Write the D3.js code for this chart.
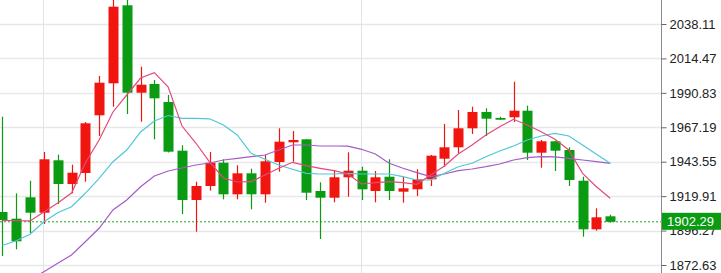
<!DOCTYPE html>
<html>
<head>
<meta charset="utf-8">
<script src="https://cdn.jsdelivr.net/npm/d3@7"></script>
<style>
  body { margin: 0; background: #fff; }
  svg { display: block; }
  .tick text { font-family: "Liberation Sans", Arial, sans-serif; font-size: 13px; fill: #222; }
</style>
</head>
<body>
<div id="chart"></div>
<script>
// candles, left to right (red = up, green = down)
var opens  = [1909.02,1904.42,1919.11,1908.54,1944.52,1928.25,1935.80,1975.42,1997.39,2050.95,
              1990.94,1996.91,1984.55,1951.11,1917.26,1926.87,1942.87,1921.17,1935.59,1921.17,
              1943.35,1956.88,1958.94,1923.44,1918.84,1932.85,1937.38,1923.44,1933.26,1922.96,
              1924.61,1931.47,1945.62,1953.45,1966.49,1977.69,1973.57,1974.05,1978.58,1949.74,
              1957.57,1951.59,1930.51,1897.14,1906.07];
var highs  = [1974.46,1921.86,1930.51,1950.22,1948.37,1941.50,1970.82,2002.40,2056.50,2057.80,
              2008.79,1999.66,1989.36,1954.82,1929.83,1950.22,1945.21,1941.09,1938.75,1948.37,
              1966.49,1964.64,1959.15,1929.41,1937.86,1950.01,1940.13,1937.17,1945.21,1933.26,
              1938.34,1948.16,1969.45,1979.06,1981.32,1980.23,1974.46,1998.49,1982.01,1958.46,
              1958.00,1953.45,1933.26,1911.56,1907.17];
var lows   = [1878.81,1883.41,1894.60,1900.78,1914.51,1921.86,1929.83,1961.21,1981.32,1976.31,
              1971.03,1958.94,1949.88,1907.65,1895.49,1923.65,1917.74,1917.74,1910.88,1915.41,
              1936.69,1943.56,1917.26,1890.48,1915.68,1919.53,1917.26,1915.68,1917.26,1915.41,
              1920.01,1926.87,1940.13,1949.33,1962.58,1961.21,1972.19,1970.82,1944.73,1939.44,
              1937.17,1926.87,1892.06,1896.18,1901.67];
var closes = [1903.53,1888.90,1908.54,1945.21,1928.25,1936.01,1969.93,1997.80,2049.99,1990.94,
              1996.43,1987.09,1950.43,1917.26,1926.87,1942.87,1921.17,1935.59,1921.17,1943.83,
              1957.29,1958.46,1922.27,1918.84,1932.85,1937.38,1924.61,1932.85,1923.44,1925.30,
              1931.47,1947.68,1953.45,1966.49,1977.69,1973.09,1972.40,1978.58,1949.74,1957.57,
              1951.11,1930.99,1897.14,1905.38,1902.29];

// moving average lines
var maPink   = [1903.3,1903.0,1902.9,1909.02,1915.20,1922.07,1942.67,1958.46,1977.69,1989.36,
                2001.03,2004.67,1994.85,1968.07,1956.40,1943.35,1932.37,1929.62,1929.83,1934.43,
                1939.03,1943.15,1940.81,1939.03,1937.38,1935.11,1928.25,1929.14,1929.83,1929.14,
                1928.04,1934.43,1940.61,1948.85,1955.03,1961.89,1967.59,1972.67,1968.76,1964.16,
                1958.94,1951.59,1935.59,1926.39,1918.43];
var maCyan   = [1886.02,1889.32,1893.71,1902.36,1908.54,1912.66,1921.86,1932.16,1943.56,1951.59,
                1963.95,1971.51,1975.28,1973.36,1973.36,1973.0,1968.76,1961.89,1949.33,1945.21,
                1941.29,1938.34,1935.59,1935.11,1935.11,1935.59,1935.11,1935.11,1935.11,1933.26,
                1930.99,1930.99,1935.59,1940.13,1942.46,1946.99,1950.91,1954.34,1958.46,1961.21,
                1963.06,1961.21,1955.03,1948.64,1942.46];
var maPurple = [1851.34,1856.84,1862.33,1868.03,1873.80,1879.50,1888.63,1897.83,1910.39,1917.26,
                1926.39,1933.74,1937.17,1939.23,1941.29,1942.67,1944.73,1945.89,1946.99,1948.16,
                1951.59,1955.03,1955.03,1954.34,1954.34,1954.2,1952.07,1948.85,1942.46,1939.03,
                1936.01,1933.26,1935.11,1937.38,1938.55,1940.13,1941.98,1944.73,1946.31,1946.99,
                1946.9,1945.89,1944.73,1943.56,1942.46];

var tickValues = [2038.11, 2014.47, 1990.83, 1967.19, 1943.55, 1919.91, 1896.27, 1872.63];
var lastPrice = 1902.29;

var W = 721, H = 273;
var axisX = 661;

var svg = d3.select("#chart").append("svg")
  .attr("width", W)
  .attr("height", H);

var idx = d3.range(closes.length);

var x = d3.scaleBand()
  .domain(idx)
  .range([-2.6, -2.6 + 13.73 * closes.length])
  .paddingInner(0.27)
  .paddingOuter(0);

var y = d3.scaleLinear()
  .domain([1872.63, 2038.11])
  .range([265, 24]);

function cx(i) { return x(i) + x.bandwidth() / 2; }

// grid
svg.append("g")
  .selectAll("line")
  .data(tickValues)
  .enter().append("line")
  .attr("x1", 0).attr("x2", axisX)
  .attr("y1", function(d) { return Math.round(y(d)) + 0.5; })
  .attr("y2", function(d) { return Math.round(y(d)) + 0.5; })
  .attr("stroke", "#e8e8e8")
  .attr("stroke-width", 1.3);

// vertical grid lines (every 23 bars)
svg.append("g")
  .selectAll("line")
  .data([3, 26])
  .enter().append("line")
  .attr("x1", function(d) { return Math.round(cx(d)) - 0.5; })
  .attr("x2", function(d) { return Math.round(cx(d)) - 0.5; })
  .attr("y1", 0).attr("y2", H)
  .attr("stroke", "#dde4ee")
  .attr("stroke-width", 1);

// last price dotted line
svg.append("line")
  .attr("x1", 0).attr("x2", axisX)
  .attr("y1", y(lastPrice)).attr("y2", y(lastPrice))
  .attr("stroke", "#1aa31a")
  .attr("stroke-width", 1)
  .attr("stroke-dasharray", "2,2");

var plot = svg.append("g");

// candles
var candles = plot.selectAll("g.candle")
  .data(idx)
  .enter().append("g")
  .attr("class", "candle");

function col(i) { return closes[i] >= opens[i] ? "#f0150f" : "#0b9b12"; }

candles.append("line")
  .attr("x1", function(i) { return Math.round(cx(i)) + 0.5; })
  .attr("x2", function(i) { return Math.round(cx(i)) + 0.5; })
  .attr("y1", function(i) { return y(highs[i]); })
  .attr("y2", function(i) { return y(lows[i]); })
  .attr("stroke", col)
  .attr("stroke-width", 1.2);

candles.append("rect")
  .attr("x", function(i) { return Math.round(cx(i)) + 0.5 - 5; })
  .attr("width", 10)
  .attr("y", function(i) { return y(Math.max(opens[i], closes[i])); })
  .attr("height", function(i) { return Math.max(1.5, Math.abs(y(opens[i]) - y(closes[i]))); })
  .attr("fill", col);

// moving averages
function maLine(arr, color) {
  var line = d3.line()
    .x(function(d, i) { return cx(i); })
    .y(function(d) { return y(d); });
  plot.append("path")
    .datum(arr)
    .attr("d", line)
    .attr("fill", "none")
    .attr("stroke", color)
    .attr("stroke-width", 1.2);
}
maLine(maPurple, "#a45bc9");
maLine(maCyan, "#4fc7d7");
maLine(maPink, "#e34a7c");

// right axis
svg.append("rect")
  .attr("x", axisX).attr("y", 0)
  .attr("width", W - axisX).attr("height", H)
  .attr("fill", "#fff");

var yAxis = d3.axisRight(y)
  .tickValues(tickValues)
  .tickSize(5)
  .tickPadding(3)
  .tickFormat(d3.format(".2f"));

var ag = svg.append("g")
  .attr("transform", "translate(" + (axisX + 0.5) + ",0)")
  .call(yAxis);
ag.select(".domain").attr("stroke", "#8a8a8a").attr("d", "M0,0V" + H);
ag.selectAll(".tick line").attr("stroke", "#666");

// last price label
var ly = y(lastPrice);
svg.append("rect")
  .attr("x", axisX + 1).attr("y", ly - 9)
  .attr("width", W - axisX - 1).attr("height", 17)
  .attr("fill", "#0b9b12");
svg.append("text")
  .attr("x", axisX + 6).attr("y", ly + 4.5)
  .attr("font-family", "Liberation Sans, Arial, sans-serif")
  .attr("font-size", 13)
  .attr("fill", "#fff")
  .text(d3.format(".2f")(lastPrice));
</script>
</body>
</html>
